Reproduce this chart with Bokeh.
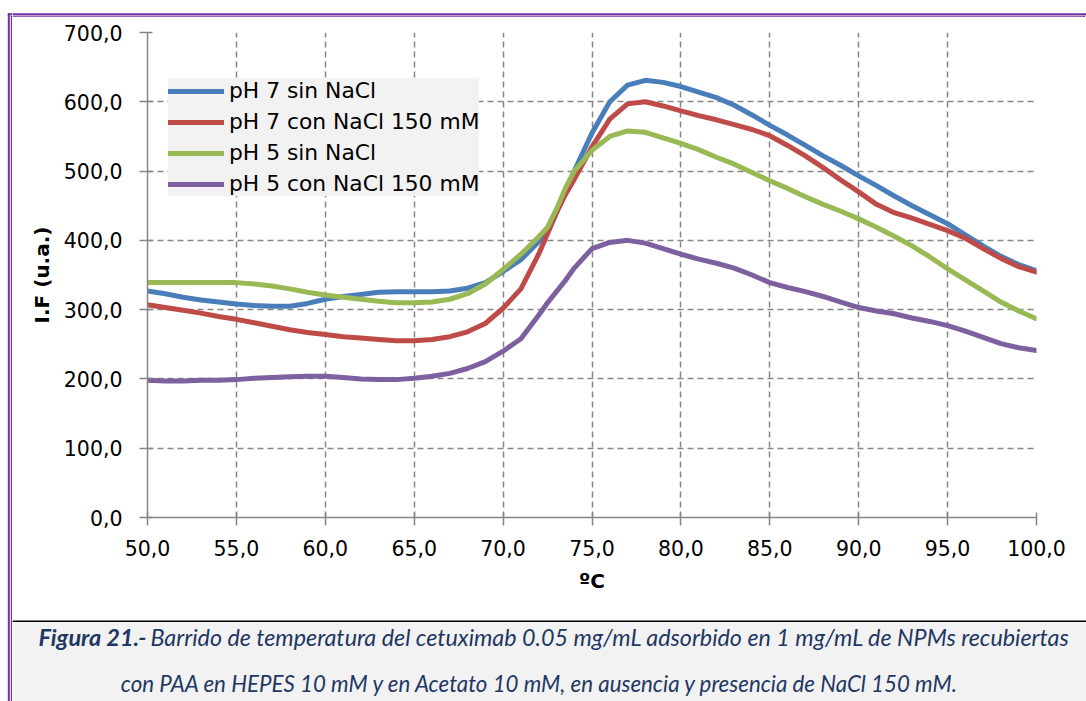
from bokeh.plotting import figure
from bokeh.layouts import row, column
from bokeh.models import Range1d, FixedTicker, Label, Legend, LegendItem
from bokeh.embed import file_html
from bokeh.resources import INLINE

# ---- data ----
temp = [50, 51, 52, 53, 54, 55, 56, 57, 58, 59, 60, 61, 62, 63, 64, 65, 66, 67, 68, 69,
        70, 71, 72, 72.5, 73, 73.5, 74, 75, 76, 77, 78, 79, 80,
        81, 82, 83, 84, 85, 86, 87, 88, 89, 90, 91, 92, 93, 94, 95, 96, 97, 98, 99, 100]

ph7_sin = [327, 323, 318, 314, 311, 308, 306, 305, 305, 309, 315, 319, 322, 325, 326, 326, 326, 327, 331, 339,
           355, 372, 398, 411, 440, 470, 500, 555, 600, 624, 631, 628, 622,
           614, 606, 595, 581, 566, 552, 537, 522, 508, 493, 479, 464, 450, 437, 424, 408, 392, 377, 365, 356]

ph7_con = [307, 303, 299, 295, 290, 286, 281, 276, 271, 267, 264, 261, 259, 257, 255, 255, 257, 261, 268, 280,
           302, 330, 380, 410, 440, 466, 488, 535, 575, 597, 600, 594, 587,
           580, 574, 567, 560, 551, 537, 522, 505, 487, 470, 452, 440, 432, 423, 414, 403, 388, 374, 362, 354]

ph5_sin = [339, 339, 339, 339, 339, 339, 337, 334, 330, 325, 321, 318, 315, 312, 310, 310, 311, 315, 323, 337,
           358, 380, 405, 419, 445, 475, 500, 530, 550, 558, 556, 548, 540,
           531, 520, 510, 498, 486, 475, 463, 452, 442, 431, 419, 406, 392, 376, 359, 343, 327, 311, 298, 287]

ph5_con = [198, 197, 197, 198, 198, 199, 201, 202, 203, 204, 204, 202, 200, 199, 199, 201, 204, 208, 215, 225,
           240, 258, 292, 310, 326, 342, 360, 388, 397, 400, 396, 388, 380,
           373, 367, 360, 350, 339, 332, 326, 319, 311, 303, 298, 294, 288, 283, 277, 269, 260, 251, 245, 241]

series_names = ["pH 7 sin NaCl", "pH 7 con NaCl 150 mM", "pH 5 sin NaCl", "pH 5 con NaCl 150 mM"]
series_colors = ["#4A7EBB", "#BE4B48", "#98B954", "#7D60A0"]

x_ticks = [50, 55, 60, 65, 70, 75, 80, 85, 90, 95, 100]
x_tick_labels = ["50,0", "55,0", "60,0", "65,0", "70,0", "75,0", "80,0", "85,0", "90,0", "95,0", "100,0"]
y_ticks = [0, 100, 200, 300, 400, 500, 600, 700]
y_tick_labels = ["0,0", "100,0", "200,0", "300,0", "400,0", "500,0", "600,0", "700,0"]

x_title = "ºC"
y_title = "I.F (u.a.)"
caption_bold = "Figura 21.-"
caption_1 = "Barrido de temperatura del cetuximab 0.05 mg/mL adsorbido en 1 mg/mL de NPMs recubiertas"
caption_2 = "con PAA en HEPES 10 mM y en Acetato 10 mM, en ausencia y presencia de NaCl 150 mM."

FONT = "DejaVu Sans"
GRAY = "#868686"
PURPLE = "#7030A0"
CAP_COLOR = "#1F3763"
CAP_FONT = "Lato"


def blank(width, height, xr, yr):
    f = figure(width=width, height=height, x_range=Range1d(*xr), y_range=Range1d(*yr),
               output_backend="svg", toolbar_location=None, min_border=0,
               x_axis_location=None, y_axis_location=None, frame_align=False)
    f.outline_line_color = None
    f.grid.visible = False
    f.border_fill_color = "white"
    f.background_fill_color = "white"
    return f


# ---- left purple strip (page x 0..12, y 0..701) ----
left = blank(12, 701, (0, 12), (701, 0))
left.quad(left=[7.3, 10.3, 7.3, 10.3], right=[9.3, 11.7, 12, 12],
          top=[12.7, 15.3, 12.7, 15.3], bottom=[701, 701, 14.7, 16.3],
          fill_color=PURPLE, line_color=None)

# ---- top purple strip (page x 12..1086, y 0..17) ----
top = blank(1074, 17, (12, 1086), (17, 0))
top.quad(left=[12, 12, 1083], right=[1086, 1084, 1084.5], top=[12.7, 15.3, 15.3], bottom=[14.7, 16.3, 17],
         fill_color=PURPLE, line_color=None)

# ---- main chart (page x 12..1086, y 17..620) ----
p = figure(width=1074, height=603, x_range=Range1d(50, 100), y_range=Range1d(0, 700),
           output_backend="svg", toolbar_location=None, frame_align=False,
           min_border_left=135, min_border_right=50, min_border_top=15, min_border_bottom=103)
p.outline_line_color = None
p.background_fill_color = "white"
p.border_fill_color = "white"

renderers = []
for ys, c in zip([ph7_sin, ph7_con, ph5_sin, ph5_con], series_colors):
    r = p.line(temp, ys, line_width=5, line_color=c, line_cap="round", line_join="round")
    renderers.append(r)

legend = Legend(items=[LegendItem(label=n, renderers=[r]) for n, r in zip(series_names, renderers)],
                location=(21, 321), background_fill_color="#F2F2F2", background_fill_alpha=1.0,
                border_line_color=None, padding=7, spacing=6, margin=0,
                glyph_width=56, glyph_height=24, label_height=24, label_standoff=5,
                label_text_font=FONT, label_text_font_size="21.8px", label_text_color="black")
p.add_layout(legend, "center")

p.xaxis.ticker = FixedTicker(ticks=x_ticks)
p.yaxis.ticker = FixedTicker(ticks=y_ticks)
p.xaxis.major_label_overrides = {t: l for t, l in zip(x_ticks, x_tick_labels)}
p.yaxis.major_label_overrides = {t: l for t, l in zip(y_ticks, y_tick_labels)}

for ax in (p.xaxis, p.yaxis):
    ax.axis_line_color = GRAY
    ax.axis_line_width = 1.5
    ax.major_tick_line_color = GRAY
    ax.major_tick_line_width = 1.5
    ax.minor_tick_line_color = None
    ax.major_tick_in = 5
    ax.major_tick_out = 8
    ax.major_label_text_font = FONT
    ax.major_label_text_font_size = "20.5px"
    ax.major_label_text_color = "black"
    ax.axis_label_text_font = FONT
    ax.axis_label_text_font_size = "20px"
    ax.axis_label_text_font_style = "bold"
    ax.axis_label_text_color = "black"

p.xaxis.axis_label = x_title
p.yaxis.axis_label = y_title
p.yaxis.major_label_standoff = 17
p.xaxis.major_label_standoff = 14
p.yaxis.axis_label_standoff = 7
p.xaxis.axis_label_standoff = 10
p.yaxis.major_label_orientation = "horizontal"

for g in (p.xgrid, p.ygrid):
    g.grid_line_color = GRAY
    g.grid_line_width = 1.5
    g.grid_line_dash = "6 4"

# ---- caption (page x 12..1086, y 620..701) ----
cap = blank(1074, 81, (12, 1086), (701, 620))
cap.quad(left=[12, 12], right=[1086, 1086], top=[621.5, 619.5], bottom=[701, 621.5],
         fill_color=["#F2F2F2", "black"], line_color=None)
cap.add_layout(Label(x=146, y=636, text=caption_bold,
                     text_font=CAP_FONT, text_font_style="bold italic", text_font_size="23.5px",
                     text_color=CAP_COLOR, text_baseline="middle", text_align="right"))
cap.add_layout(Label(x=150, y=636, text=caption_1,
                     text_font=CAP_FONT, text_font_style="italic", text_font_size="23.3px",
                     text_color=CAP_COLOR, text_baseline="middle", text_align="left"))
cap.add_layout(Label(x=540, y=683, text=caption_2,
                     text_font=CAP_FONT, text_font_style="italic", text_font_size="22.3px",
                     text_color=CAP_COLOR, text_baseline="middle", text_align="center"))

layout = row(left, column(top, p, cap, spacing=0), spacing=0)

open("out.html", "w").write(file_html(layout, INLINE))
